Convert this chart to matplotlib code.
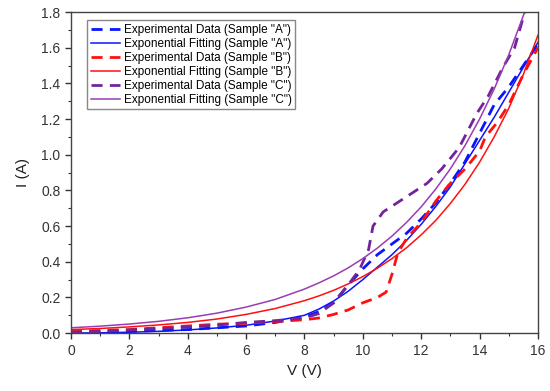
import matplotlib.pyplot as plt
from matplotlib.ticker import MultipleLocator

plt.rcParams['font.family'] = ['Liberation Sans', 'DejaVu Sans']

# experimental data
v_a = [0, 1, 2, 3, 4, 5, 6, 7, 8, 8.5, 9, 9.5, 10, 10.5, 11, 11.5, 12, 12.5, 13, 13.5, 14, 14.5, 15, 15.5, 16]
i_a = [0.0, 0.005, 0.01, 0.015, 0.02, 0.03, 0.04, 0.06, 0.09, 0.12, 0.17, 0.27, 0.36, 0.44, 0.50, 0.56,
       0.64, 0.73, 0.84, 0.96, 1.12, 1.28, 1.38, 1.50, 1.62]

v_b = [0, 1, 2, 3, 4, 5, 6, 7, 7.5, 8, 8.5, 9, 9.5, 10, 10.5, 10.8, 11.0, 11.2, 11.5, 12, 12.5, 13, 13.5,
       14, 14.2, 14.6, 15, 15.5, 16]
i_b = [0.01, 0.015, 0.02, 0.03, 0.04, 0.05, 0.055, 0.065, 0.07, 0.075, 0.085, 0.105, 0.13, 0.17, 0.20,
       0.23, 0.33, 0.45, 0.53, 0.62, 0.74, 0.84, 0.92, 1.02, 1.10, 1.18, 1.28, 1.45, 1.60]

v_c = [0, 1, 2, 3, 4, 5, 6, 7, 8, 8.5, 9, 9.5, 9.9, 10.2, 10.35, 10.7, 11.5, 12.2, 12.7, 13.3, 13.9,
       14.3, 14.8, 15.2, 15.55]
i_c = [0.005, 0.01, 0.018, 0.025, 0.035, 0.045, 0.06, 0.07, 0.085, 0.11, 0.17, 0.27, 0.36, 0.47, 0.60,
       0.68, 0.765, 0.84, 0.92, 1.04, 1.23, 1.33, 1.49, 1.60, 1.80]

# exponential fitting curves
v_fit = [0, 1, 2, 3, 4, 5, 6, 7, 8, 8.5, 9, 9.5, 10, 10.5, 11, 11.5, 12, 12.5, 13, 13.5, 14, 14.5, 15,
         15.5, 16]
fit_a = [0.0, 0.002, 0.005, 0.010, 0.018, 0.029, 0.044, 0.068, 0.10, 0.135, 0.18, 0.235, 0.30, 0.37,
         0.44, 0.52, 0.61, 0.71, 0.82, 0.95, 1.08, 1.21, 1.35, 1.49, 1.63]
fit_b = [0.020, 0.026, 0.035, 0.046, 0.060, 0.079, 0.105, 0.138, 0.182, 0.209, 0.240, 0.276, 0.317,
         0.364, 0.418, 0.479, 0.551, 0.632, 0.727, 0.834, 0.958, 1.10, 1.26, 1.45, 1.67]
fit_c = [0.030, 0.039, 0.051, 0.066, 0.086, 0.112, 0.146, 0.189, 0.247, 0.282, 0.321, 0.366, 0.418,
         0.477, 0.544, 0.621, 0.708, 0.808, 0.921, 1.051, 1.20, 1.368, 1.56, 1.78, 2.03]

blue = '#0a14ff'
red = '#ff1010'
purple_d = '#72259a'
purple_f = '#9a3cb4'

fig = plt.figure(figsize=(5.5, 3.91), dpi=100)
ax = fig.add_axes([0.129, 0.148, 0.849, 0.821])

dash = (4.0, 2.6)
ax.plot(v_a, i_a, color=blue, lw=2.0, dashes=dash, label='Experimental Data (Sample "A")')
ax.plot(v_fit, fit_a, color=blue, lw=1.1, label='Exponential Fitting (Sample "A")')
ax.plot(v_b, i_b, color=red, lw=2.0, dashes=dash, label='Experimental Data (Sample "B")')
ax.plot(v_fit, fit_b, color=red, lw=1.1, label='Exponential Fitting (Sample "B")')
ax.plot(v_c, i_c, color=purple_d, lw=2.0, dashes=dash, label='Experimental Data (Sample "C")')
ax.plot(v_fit, fit_c, color=purple_f, lw=1.1, label='Exponential Fitting (Sample "C")')

ax.set_xlim(0, 16)
ax.set_ylim(0, 1.8)
ax.xaxis.set_major_locator(MultipleLocator(2))
ax.xaxis.set_minor_locator(MultipleLocator(1))
ax.yaxis.set_major_locator(MultipleLocator(0.2))
ax.yaxis.set_minor_locator(MultipleLocator(0.1))
ax.yaxis.set_major_formatter(plt.FormatStrFormatter('%.1f'))
ax.tick_params(which='major', direction='out', length=4, width=1, labelsize=10, colors='#333333')
ax.tick_params(which='minor', direction='out', length=2.5, width=0.8, colors='#333333')
for s in ax.spines.values():
    s.set_color('#444444')
    s.set_linewidth(1.0)

ax.set_xlabel('V (V)', fontsize=11, color='#222222', labelpad=5)
ax.set_ylabel('I (A)', fontsize=11, color='#222222', labelpad=8)

leg = ax.legend(loc='upper left', bbox_to_anchor=(0.032, 0.978), fontsize=8.5, handlelength=2.5,
                labelspacing=0.17, handletextpad=0.3, borderpad=0.3, borderaxespad=0.1,
                fancybox=False, framealpha=1, edgecolor='#888888')

fig.savefig('out.png', dpi=100)
